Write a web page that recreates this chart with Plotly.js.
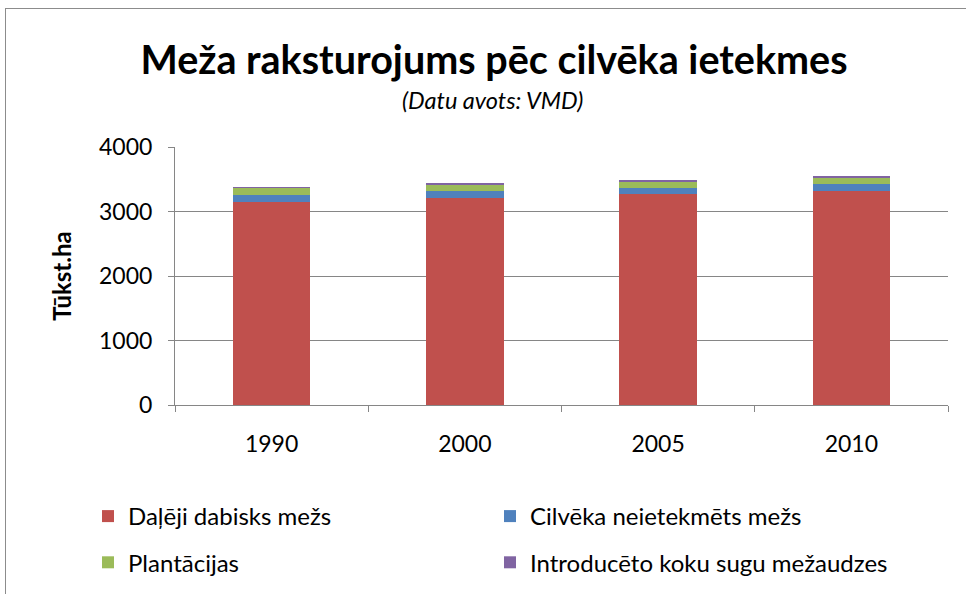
<!DOCTYPE html>
<html><head><meta charset="utf-8">
<script src="https://cdn.plot.ly/plotly-3.0.1.min.js"></script>
<style>
html,body{margin:0;padding:0;background:#fff;}
#frame{position:absolute;left:5px;top:8px;width:975px;height:600px;border:1.5px solid #8c8c8c;box-sizing:border-box;}
#chart{position:absolute;left:0;top:0;width:966px;height:594px;}
</style></head>
<body>
<div id="frame"></div>
<div id="chart"></div>
<script>
const years = ['1990','2000','2005','2010'];
const dalejiDabisks = [3150, 3210, 3265, 3320];
const neietekmets = [105, 104, 102, 104];
const plantacijas = [104, 98, 93, 97];
const introduceto = [16, 26, 26, 27];
const seriesNames = ['Daļēji dabisks mežs','Cilvēka neietekmēts mežs','Plantācijas','Introducēto koku sugu mežaudzes'];
const colors = ['#c0504d','#4f81bd','#9bbb59','#8064a2'];
const legendOf = ['legend','legend2','legend','legend2'];
const font = 'Lato, "Open Sans", sans-serif';
const vals = [dalejiDabisks, neietekmets, plantacijas, introduceto];
const traces = vals.map((v,i)=>({type:'bar', x:years, y:v, name:seriesNames[i], marker:{color:colors[i]}, legend:legendOf[i], legendgroup:'g'+i, hoverinfo:'y'}));
const legBase = {orientation:'v', yref:'container', y:1-494/594, yanchor:'top', traceorder:'grouped', tracegroupgap:12, font:{size:24, family:font}, itemwidth:30, bgcolor:'rgba(0,0,0,0)'};
const layout = {
  width:966, height:594, barmode:'stack', bargap:0.6,
  paper_bgcolor:'rgba(0,0,0,0)', plot_bgcolor:'rgba(0,0,0,0)',
  font:{family:font, color:'#000', size:23},
  title:{text:'<b>Meža raksturojums pēc cilvēka ietekmes</b>', font:{size:39.5, family:font}, x:(494)/966, xanchor:'center', y:1-60/594, yanchor:'middle'},
  annotations:[{text:'<i>(Datu avots: VMD)</i>', xref:'paper', yref:'paper', x:(492-175)/773, y:(405-100)/258, showarrow:false, font:{size:23.5, family:font}, xanchor:'center', yanchor:'middle'}],
  margin:{l:175, r:18, t:147, b:189, autoexpand:false},
  xaxis:{type:'category', showline:true, linecolor:'#868686', linewidth:1, ticks:'outside', tickson:'boundaries', ticklen:6, tickcolor:'#868686', tickfont:{size:23}, ticklabelstandoff:18},
  yaxis:{range:[0,4000], tickvals:[0,1000,2000,3000,4000], showline:true, linecolor:'#868686', ticks:'outside', ticklen:6, tickcolor:'#868686', gridcolor:'#868686', gridwidth:1, zeroline:false, tickfont:{size:23}, ticklabelstandoff:11,
    title:{text:'<b>Tūkst.ha</b>', font:{size:24}, standoff:20}},
  legend:Object.assign({}, legBase, {x:(88-175)/773, xanchor:'left'}),
  legend2:Object.assign({}, legBase, {x:(490-175)/773, xanchor:'left'}),
  showlegend:true
};
Plotly.newPlot('chart', traces, layout, {displayModeBar:false, staticPlot:true});
</script>
</body></html>
